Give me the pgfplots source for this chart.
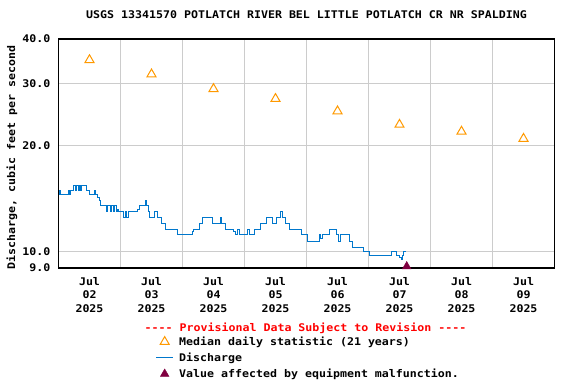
\documentclass[border=0pt]{standalone}
\usepackage{fontspec}
\setmainfont{DejaVu Sans Mono}[FakeStretch=1.1, Ligatures=TeXOff]
\usepackage{pgfplots}
\pgfplotsset{compat=1.18}
\definecolor{medorange}{RGB}{255,153,0}
\definecolor{qblue}{RGB}{0,119,204}
\definecolor{maroonx}{RGB}{128,0,64}
\definecolor{gridgray}{RGB}{204,204,204}
\newcommand{\cf}{\fontsize{10.6}{13.5}\selectfont\bfseries}
\begin{document}
\bfseries
\begin{tikzpicture}[font=\cf]
\begin{axis}[
  name=ax, at={(0,0)}, anchor=south west,
  scale only axis, width=496bp, height=229bp,
  xmin=0, xmax=192, ymode=log, ymin=9, ymax=40,
  clip=false,
  /pgf/number format/assume math mode=true,
  xtick={12,36,60,84,108,132,156,180},
  xticklabels={{Jul\\02\\2025},{Jul\\03\\2025},{Jul\\04\\2025},{Jul\\05\\2025},{Jul\\06\\2025},{Jul\\07\\2025},{Jul\\08\\2025},{Jul\\09\\2025}},
  minor xtick={24,48,72,96,120,144,168},
  xminorgrids=true, xmajorgrids=false, ymajorgrids=true,
  ytick={9,10,20,30,40}, yticklabels={9.0,10.0,20.0,30.0,40.0},
  major tick length=0pt, minor tick length=0pt,
  grid style={gridgray, line width=1bp},
  minor grid style={gridgray, line width=1bp},
  axis line style={black, line width=1.2bp},
  xticklabel style={align=center, anchor=north, inner sep=0pt, yshift=-9bp, font=\cf},
  yticklabel style={anchor=east, inner sep=0pt, xshift=-8bp, font=\cf},
  title={USGS 13341570 POTLATCH RIVER BEL LITTLE POTLATCH CR NR SPALDING},
  title style={at={(axis description cs:0.5,1)}, anchor=base, yshift=15bp, inner sep=0pt, font=\cf},
  ylabel={Discharge, cubic feet per second},
  ylabel style={at={(axis description cs:-0.0938,0.483)}, anchor=center, inner sep=0pt, font=\cf},
  legend style={draw=none, fill=none, at={(axis description cs:0.1895,-0.2840)}, anchor=north west,
    font=\cf, row sep=3bp, column sep=4bp, nodes={inner sep=1.5bp}},
  legend cell align=left,
]
\addplot[only marks, mark=triangle, mark size=5.2bp, mark options={draw=medorange, line width=1bp, fill=none}]
  coordinates {(12,34.9) (36,31.8) (60,28.9) (84,27.1) (108,25.0) (132,22.9) (156,21.9) (180,20.9)};
\addlegendentry{Median daily statistic (21 years)}
\addplot[const plot, qblue, line width=1bp, mark=none] table[row sep=\\] {
x y\\
0 14.5\\ 0.4 14.9\\ 0.9 14.5\\ 3.8 14.9\\ 4.3 14.5\\ 4.7 14.9\\ 5.7 15.4\\ 6.4 14.9\\
7.0 15.4\\ 7.8 14.9\\ 8.2 15.4\\ 8.6 14.9\\ 9.0 15.4\\ 10.9 14.9\\ 11.9 14.5\\ 13.9 14.9\\
14.2 14.5\\ 15.2 14.2\\ 15.8 14.0\\ 16.3 13.5\\ 18.4 13.0\\ 18.9 13.5\\ 20.0 13.0\\ 20.4 13.5\\
21.2 13.0\\ 21.6 13.5\\ 22.3 13.0\\ 22.7 13.2\\ 23.1 13.0\\ 25.3 12.5\\ 25.8 13.0\\ 26.2 12.5\\
27.2 13.0\\ 30.5 13.2\\ 31.3 13.5\\ 33.5 14.0\\ 34.1 13.5\\ 34.8 13.0\\ 35.4 12.5\\ 37.0 13.0\\
38.2 12.5\\ 39.7 12.0\\ 41.6 11.6\\ 46.1 11.2\\ 51.9 11.4\\ 52.2 11.6\\ 54.4 12.0\\ 55.8 12.5\\
59.7 12.0\\ 62.8 12.5\\ 63.1 12.0\\ 64.7 11.6\\ 67.7 11.4\\ 68.4 11.2\\ 69.2 11.6\\ 69.9 11.2\\
73.1 11.6\\ 73.9 11.2\\ 75.7 11.6\\ 78.3 12.0\\ 80.6 12.5\\ 82.9 12.0\\ 84.5 12.5\\ 86.0 13.0\\
86.6 12.5\\ 87.7 12.0\\ 89.3 11.6\\ 94.1 11.2\\ 96.5 10.7\\ 101.2 11.2\\ 101.5 10.9\\ 102.0 11.2\\
104.8 11.6\\ 107.7 11.2\\ 108.3 10.7\\ 109.2 11.2\\ 112.6 10.7\\ 113.9 10.3\\ 118.0 10.0\\ 120.3 9.78\\
129.0 10.0\\ 130.9 9.78\\ 131.9 9.63\\ 132.6 9.52\\ 133.2 9.78\\ 133.7 10.0\\ 134.5 10.0\\
};
\addlegendentry{Discharge}
\addplot[only marks, mark=triangle*, mark size=5bp, mark options={draw=maroonx, fill=maroonx}]
  coordinates {(134.8,9.09)};
\addlegendentry{Value affected by equipment malfunction.}
\end{axis}
\node[anchor=base, text=red, inner sep=0pt, font=\cf] at ([xshift=247bp, yshift=-63bp]ax.south west)
  {---- Provisional Data Subject to Revision ----};
\pgfresetboundingbox
\useasboundingbox ([xshift=-58.5bp,yshift=-116bp]ax.south west) rectangle ([xshift=517.5bp,yshift=268bp]ax.south west);
\end{tikzpicture}
\end{document}
